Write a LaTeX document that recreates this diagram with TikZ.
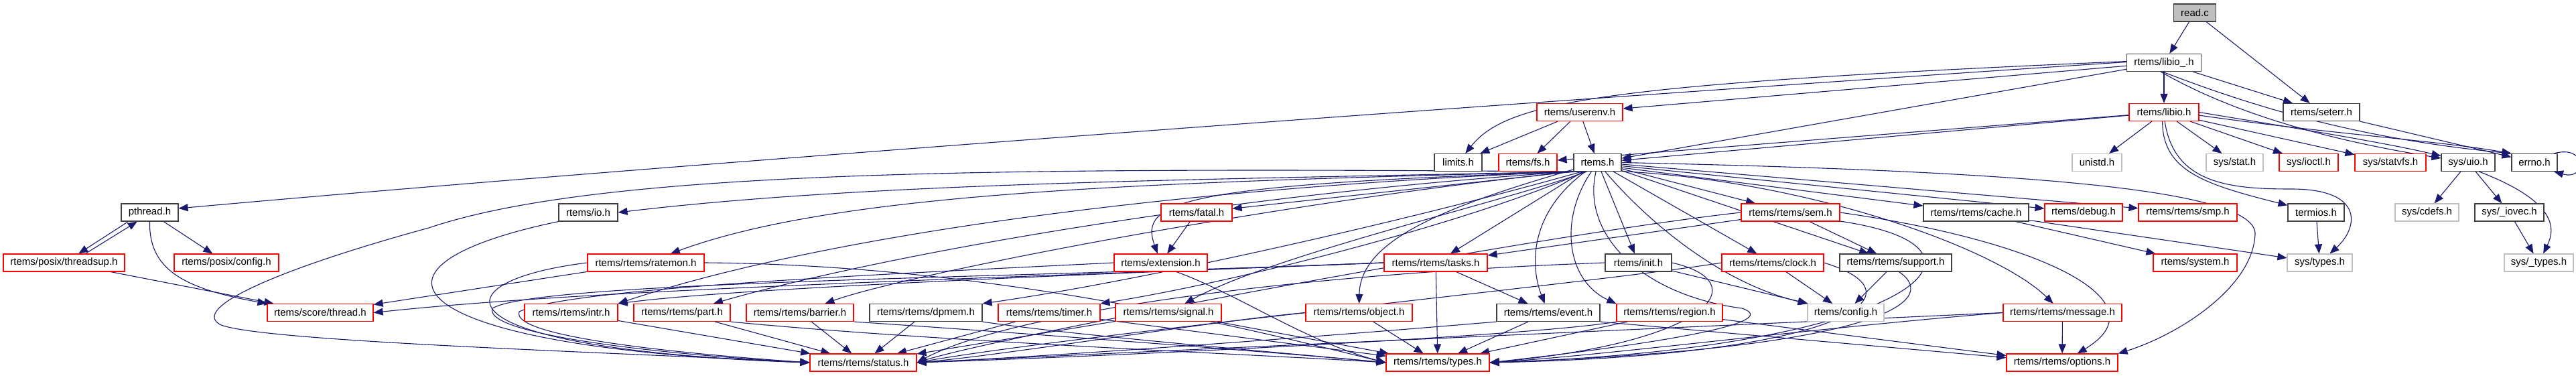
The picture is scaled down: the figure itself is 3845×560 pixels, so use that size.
\documentclass[tikz,border=0pt]{standalone}
\usepackage{fontspec}
\setmainfont{Liberation Sans}
\usetikzlibrary{arrows.meta}
\definecolor{edgec}{HTML}{191970}
\definecolor{nblack}{HTML}{404040}
\definecolor{nred}{HTML}{FF0000}
\definecolor{ngray}{HTML}{BFBFBF}
\definecolor{rootfill}{HTML}{BFBFBF}
\pgfdeclarelayer{edgelayer}
\pgfsetlayers{edgelayer,main}
\begin{document}
\begin{tikzpicture}[x=1pt,y=-1pt,
  nd/.style={rectangle, draw, line width=1.1pt, minimum height=26pt, inner sep=0pt, font=\fontsize{15}{18}\selectfont, fill=white},
  bnode/.style={nd, draw=nblack},
  rnode/.style={nd, draw=nred},
  gnode/.style={nd, draw=ngray},
  rootnode/.style={nd, draw=nblack, fill=rootfill},
  conn/.style={draw=edgec, line width=1.1pt, -{Triangle[length=14pt,width=11pt]}}
]
\useasboundingbox (0,0) rectangle (3845,560);
% ---------- nodes ----------
\node[rootnode, minimum width=63pt]  (readc)   at (3276,19)    {read.c};
\node[bnode, minimum width=111pt] (libiou)  at (3230,93.5)  {rtems/libio\_.h};
\node[rnode, minimum width=104pt] (libio)   at (3230,167.5) {rtems/libio.h};
\node[bnode, minimum width=114pt] (seterr)  at (3465,167.5) {rtems/seterr.h};
\node[rnode, minimum width=128pt] (userenv) at (2358,167.5) {rtems/userenv.h};
\node[bnode, minimum width=71pt]  (limits)  at (2176.5,242.5) {limits.h};
\node[rnode, minimum width=87pt]  (fs)      at (2280.5,242.5) {rtems/fs.h};
\node[bnode, minimum width=71pt]  (rtems)   at (2384.5,242.5) {rtems.h};
\node[gnode, minimum width=74pt]  (unistd)  at (3130,242.5) {unistd.h};
\node[gnode, minimum width=85pt]  (sysstat) at (3335.5,242.5) {sys/stat.h};
\node[rnode, minimum width=88pt]  (ioctl)   at (3446,242.5) {sys/ioctl.h};
\node[rnode, minimum width=106pt] (statvfs) at (3568,242.5) {sys/statvfs.h};
\node[bnode, minimum width=80pt]  (uio)     at (3684,242.5) {sys/uio.h};
\node[bnode, minimum width=68pt]  (errno)   at (3783,242.5) {errno.h};
% row 317
\node[bnode, minimum width=85pt]  (pthread) at (223.5,317) {pthread.h};
\node[bnode, minimum width=88pt]  (io)      at (878,317)   {rtems/io.h};
\node[rnode, minimum width=106pt] (fatal)   at (1786,317)  {rtems/fatal.h};
\node[rnode, minimum width=147pt] (sem)     at (2672.5,317) {rtems/rtems/sem.h};
\node[bnode, minimum width=157pt] (cache)   at (2949.5,317) {rtems/rtems/cache.h};
\node[rnode, minimum width=116pt] (debug)   at (3110,317)  {rtems/debug.h};
\node[rnode, minimum width=147pt] (smp)     at (3265.5,317) {rtems/rtems/smp.h};
\node[bnode, minimum width=84pt]  (termios) at (3457,317)  {termios.h};
\node[gnode, minimum width=95pt]  (cdefs)   at (3622.5,317) {sys/cdefs.h};
\node[bnode, minimum width=103pt] (iovec)   at (3745.5,317) {sys/\_iovec.h};
% row 392
\node[rnode, minimum width=181pt] (threadsup) at (95.5,392) {rtems/posix/threadsup.h};
\node[rnode, minimum width=156pt] (pconfig)   at (338,392)  {rtems/posix/config.h};
\node[rnode, minimum width=174pt] (ratemon)   at (964,392)  {rtems/rtems/ratemon.h};
\node[rnode, minimum width=139pt] (extension) at (1732.5,392) {rtems/extension.h};
\node[rnode, minimum width=154pt] (tasks)     at (2143,392) {rtems/rtems/tasks.h};
\node[bnode, minimum width=99pt]  (init)      at (2445.5,392) {rtems/init.h};
\node[rnode, minimum width=152pt] (clock)     at (2646,392) {rtems/rtems/clock.h};
\node[bnode, minimum width=167pt] (support)   at (2829.5,392) {rtems/rtems/support.h};
\node[rnode, minimum width=125pt] (system)    at (3276.5,392) {rtems/system.h};
\node[gnode, minimum width=97pt]  (systypes)  at (3462.5,392) {sys/types.h};
\node[gnode, minimum width=103pt] (utypes)    at (3789.5,392) {sys/\_types.h};
% row 466
\node[rnode, minimum width=158pt] (thread)  at (478,466.5)  {rtems/score/thread.h};
\node[rnode, minimum width=139pt] (intr)    at (852.5,466.5) {rtems/rtems/intr.h};
\node[rnode, minimum width=144pt] (part)    at (1018,466.5) {rtems/rtems/part.h};
\node[rnode, minimum width=160pt] (barrier) at (1194,466.5) {rtems/rtems/barrier.h};
\node[bnode, minimum width=168pt] (dpmem)   at (1382,466.5) {rtems/rtems/dpmem.h};
\node[rnode, minimum width=152pt] (timer)   at (1566,466.5) {rtems/rtems/timer.h};
\node[rnode, minimum width=158pt] (signal)  at (1744,466.5) {rtems/rtems/signal.h};
\node[rnode, minimum width=159pt] (object)  at (2028.5,466.5) {rtems/rtems/object.h};
\node[bnode, minimum width=154pt] (event)   at (2311,466.5) {rtems/rtems/event.h};
\node[rnode, minimum width=158pt] (region)  at (2492,466.5) {rtems/rtems/region.h};
\node[gnode, minimum width=114pt] (config)  at (2755,466.5) {rtems/config.h};
\node[rnode, minimum width=177pt] (message) at (3078.5,466.5) {rtems/rtems/message.h};
% row 541
\node[rnode, minimum width=159pt] (status)  at (1288.5,541) {rtems/rtems/status.h};
\node[rnode, minimum width=154pt] (types)   at (2146,541)   {rtems/rtems/types.h};
\node[rnode, minimum width=166pt] (options) at (3078,541)   {rtems/rtems/options.h};
% ---------- edges ----------
\begin{pgfonlayer}{edgelayer}
\draw[conn] (readc) -- (libiou);
\draw[conn] (readc) -- (seterr);
\draw[conn] (libiou) -- (libio);
\draw[conn] (libiou) -- (seterr);
\draw[conn] (libiou.-110) .. controls (3300,150) and (3420,200) .. (uio);
\draw[conn] (libiou.-100) .. controls (3340,150) and (3500,205) .. (errno.north west);
\draw[conn] (libiou.178) .. controls (2400,125) and (2250,150) .. (limits);
\draw[conn] (libiou.179) .. controls (2300,150) and (1000,245) .. (pthread.8);
\draw[conn] (libiou) -- (userenv);
\draw[conn] (libiou) -- (rtems);
\draw[conn] (libio) -- (fs);
\draw[conn] (libio) -- (rtems);
\draw[conn] (libio) -- (unistd);
\draw[conn] (libio) -- (sysstat);
\draw[conn] (libio) -- (ioctl);
\draw[conn] (libio) -- (statvfs);
\draw[conn] (libio.east) .. controls (3450,195) and (3570,215) .. (uio);
\draw[conn] (libio.-5) .. controls (3480,200) and (3640,210) .. (errno.north west);
\draw[conn] (libio.-100) .. controls (3228,255) and (3290,275) .. (termios);
\draw[conn] (libio.-85) .. controls (3245,275) and (3330,282) .. (3420,282) .. controls (3530,282) and (3520,340) .. (systypes);
\draw[conn] (userenv) -- (limits);
\draw[conn] (userenv) -- (fs);
\draw[conn] (userenv) -- (rtems);
\draw[conn] (seterr) -- (errno);
\draw[conn] (errno.25) .. controls (3862,215) and (3862,270) .. (errno.-25);
\draw[conn] (uio) -- (cdefs);
\draw[conn] (uio) -- (iovec);
\draw[conn] (uio.-40) .. controls (3815,300) and (3815,340) .. (utypes);
\draw[conn] (iovec) -- (utypes);
\draw[conn] (termios) -- (systypes);
\draw[conn] (cache) -- (system);
\draw[conn] (cache) -- (systypes);
% posix
\draw[conn] (pthread.-157.6) -- (threadsup.32.4);
\draw[conn] (threadsup.23.8) -- (pthread.-144.9);
\draw[conn] (pthread) -- (pconfig);
\draw[conn] (pthread.south) .. controls (222,400) and (270,430) .. (thread.north west);
\draw[conn] (threadsup) -- (thread);
% rtems.h fan-out
\draw[conn] (rtems.south west) .. controls (1800,268) and (1300,272) .. (io.east);
\draw[conn] (rtems.south west) -- (fatal);
\draw[conn] (rtems.-150) .. controls (1760,275) and (1700,300) .. (extension);
\draw[conn] (rtems.south west) .. controls (1700,272) and (1250,287) .. (ratemon);
\draw[conn] (rtems.south west) .. controls (1700,282) and (1200,360) .. (intr.north east);
\draw[conn] (rtems.south west) .. controls (1800,292) and (1300,385) .. (part);
\draw[conn] (rtems.south west) .. controls (1900,302) and (1350,410) .. (barrier);
\draw[conn] (rtems.-150) .. controls (2100,330) and (1700,420) .. (dpmem.north east);
\draw[conn] (rtems.-145) .. controls (2200,330) and (1850,420) .. (timer.north east);
\draw[conn] (rtems.-140) .. controls (2250,300) and (1900,380) .. (signal);
\draw[conn] (rtems) -- (tasks);
\draw[conn] (rtems) .. controls (2150,310) and (2030,360) .. (object);
\draw[conn] (rtems) .. controls (2280,320) and (2285,400) .. (event);
\draw[conn] (rtems) .. controls (2325,330) and (2340,420) .. (region.north west);
\draw[conn] (rtems) -- (init);
\draw[conn] (rtems) .. controls (2450,320) and (2560,420) .. (config.north west);
\draw[conn] (rtems) -- (clock);
\draw[conn] (rtems) -- (sem);
\draw[conn] (rtems) -- (support);
\draw[conn] (rtems.-20) .. controls (2700,270) and (2980,370) .. (message);
\draw[conn] (rtems.-12) -- (cache);
\draw[conn] (rtems.-8) -- (debug);
\draw[conn] (rtems.-4) -- (smp);
\draw[conn] (rtems.east) .. controls (3000,255) and (3370,280) .. (3366,350) .. controls (3362,430) and (3250,500) .. (options.north east);
\draw[conn] (rtems.-100) .. controls (2360,350) and (2450,440) .. (2600,460) .. controls (2660,480) and (2500,510) .. (types.east);
\draw[conn] (rtems.south west) .. controls (1500,250) and (900,252) .. (640,340) .. controls (420,400) and (280,460) .. (330,485) .. controls (400,510) and (900,525) .. (status.west);
% lower layers
\draw[conn] (io.south west) .. controls (500,400) and (600,520) .. (status.west);
\draw[conn] (ratemon.west) .. controls (650,420) and (640,520) .. (status.west);
\draw[conn] (ratemon) -- (thread);
\draw[conn] (ratemon.east) .. controls (1500,395) and (1900,500) .. (types.west);
\draw[conn] (fatal) -- (extension);
\draw[conn] (extension.west) .. controls (1300,410) and (850,430) .. (775,465) .. controls (760,505) and (1050,530) .. (status.west);
\draw[conn] (extension.-30) .. controls (1850,440) and (1950,510) .. (types.west);
\draw[conn] (tasks) -- (types);
\draw[conn] (tasks) -- (event);
\draw[conn] (tasks.west) .. controls (1600,410) and (1100,430) .. (intr.north east);
\draw[conn] (tasks.west) .. controls (1500,415) and (900,430) .. (thread.east);
\draw[conn] (tasks.west) .. controls (1500,415) and (800,420) .. (735,460) .. controls (720,500) and (1000,530) .. (status.west);
\draw[conn] (init) -- (config);
\draw[conn] (init.east) .. controls (2620,420) and (2560,510) .. (types.east);
\draw[conn] (init.west) .. controls (1900,410) and (1500,470) .. (status.east);
\draw[conn] (intr) -- (status);
\draw[conn] (part) -- (status);
\draw[conn] (part.south east) .. controls (1400,510) and (1900,530) .. (types.west);
\draw[conn] (barrier) -- (status);
\draw[conn] (barrier.south east) .. controls (1500,495) and (1900,525) .. (types.west);
\draw[conn] (dpmem) -- (status);
\draw[conn] (dpmem.south east) .. controls (1600,500) and (1900,525) .. (types.west);
\draw[conn] (timer) -- (status);
\draw[conn] (timer) -- (types);
\draw[conn] (signal) -- (status);
\draw[conn] (signal) -- (types);
\draw[conn] (object) -- (types);
\draw[conn] (object.west) .. controls (1800,480) and (1500,530) .. (status.east);
\draw[conn] (event) -- (types);
\draw[conn] (event.south east) -- (options);
\draw[conn] (event.south west) .. controls (2000,500) and (1600,530) .. (status.east);
\draw[conn] (region) -- (types);
\draw[conn] (region) -- (options);
\draw[conn] (region.south west) .. controls (2300,500) and (1700,530) .. (status.east);
\draw[conn] (sem) -- (tasks);
\draw[conn] (sem) -- (support);
\draw[conn] (sem.east) .. controls (3050,360) and (3230,450) .. (options);
\draw[conn] (sem.-10) .. controls (3020,370) and (2850,520) .. (types.east);
\draw[conn] (sem.west) .. controls (2300,350) and (1500,500) .. (status.east);
\draw[conn] (clock) -- (config);
\draw[conn] (clock.east) .. controls (2880,440) and (2750,530) .. (types.east);
\draw[conn] (clock.west) .. controls (2400,420) and (1600,500) .. (status.east);
\draw[conn] (support) -- (config);
\draw[conn] (support.-70) .. controls (2900,450) and (2800,520) .. (types.east);
\draw[conn] (message) -- (options);
\draw[conn] (message.west) .. controls (2700,480) and (1800,520) .. (status.east);
\draw[conn] (message.west) .. controls (2700,490) and (2400,530) .. (types.east);
\end{pgfonlayer}
\end{tikzpicture}
\end{document}
